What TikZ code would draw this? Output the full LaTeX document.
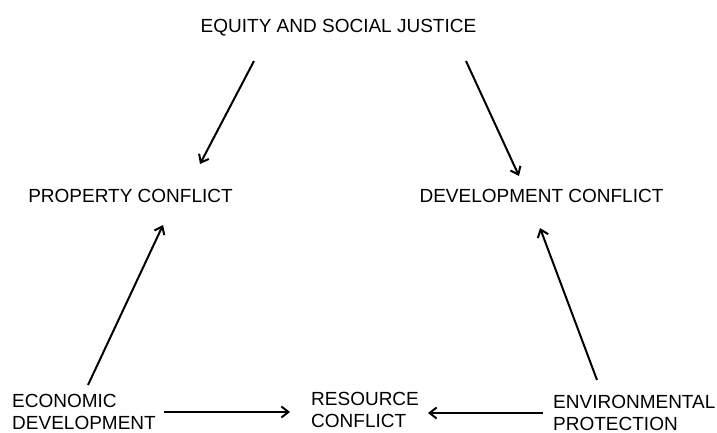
\documentclass[tikz,border=0pt]{standalone}
\usepackage{fontspec}
\setmainfont{Liberation Sans}
\usetikzlibrary{arrows.meta,calc}
\begin{document}
\begin{tikzpicture}[x=1pt,y=-1pt,
  lbl/.style={inner sep=0pt,font=\fontsize{19}{22}\selectfont},
  multi/.style={lbl,align=left,anchor=north west},
  arr/.style={line width=2pt,-{Straight Barb[length=7pt,width=11pt,line width=2pt]}}]
\useasboundingbox (0,0) rectangle (717,433);
\node[lbl,anchor=base] (eq) at (338.5,33) {EQUITY AND SOCIAL JUSTICE};
\node[lbl,anchor=base] (prop) at (130.5,202) {PROPERTY CONFLICT};
\node[lbl,anchor=base] (dev) at (541.5,202) {DEVELOPMENT CONFLICT};
\node[multi] (econ) at (12,394) {ECONOMIC\\DEVELOPMENT};
\node[multi] (res) at (311,392) {RESOURCE\\CONFLICT};
\node[multi] (env) at (553,395) {ENVIRONMENTAL\\PROTECTION};
\draw[arr] ($(eq.base)+(-84.5,28)$) -- ($(prop.base)+(69.5,-38)$);
\draw[arr] ($(eq.base)+(127.5,28)$) -- ($(dev.base)+(-22.5,-26)$);
\draw[arr] ($(econ.north west)+(76,-9)$) -- ($(prop.base)+(32.5,23)$);
\draw[arr] ($(env.north west)+(44,-15)$) -- ($(dev.base)+(-1.5,26)$);
\draw[arr] ($(econ.north west)+(152,18)$) -- ($(res.north west)+(-21,20)$);
\draw[arr] ($(env.north west)+(-10,18)$) -- ($(res.north west)+(117,21)$);
\end{tikzpicture}
\end{document}
